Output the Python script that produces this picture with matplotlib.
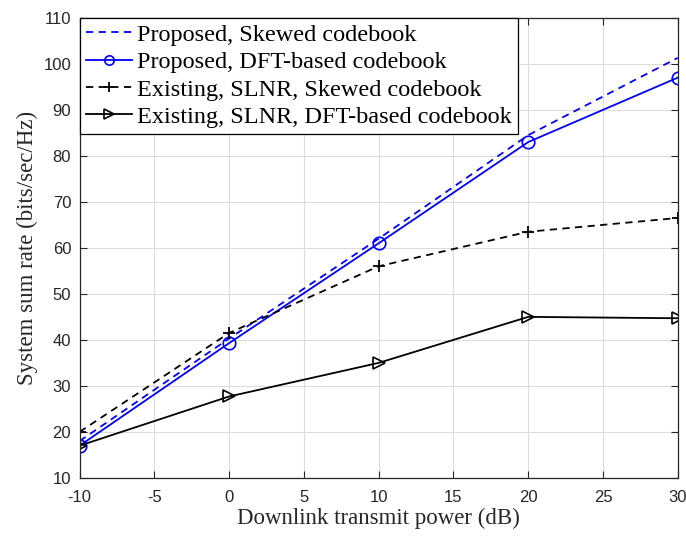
import matplotlib
matplotlib.use("Agg")
import matplotlib.pyplot as plt

plt.rcParams["axes.unicode_minus"] = False

power_db = [-10, 0, 10, 20, 30]
proposed_skewed = [18.0, 40.3, 62.0, 84.5, 101.3]
proposed_dft = [17.0, 39.3, 61.0, 83.0, 97.0]
existing_skewed = [20.0, 41.5, 56.0, 63.5, 66.5]
existing_dft = [17.0, 27.7, 35.0, 45.0, 44.7]

labels = ["Proposed, Skewed codebook",
          "Proposed, DFT-based codebook",
          "Existing, SLNR, Skewed codebook",
          "Existing, SLNR, DFT-based codebook"]

fig = plt.figure(figsize=(6.86, 5.40), dpi=100)
ax = fig.add_axes([0.116, 0.115, 0.872, 0.852])

ax.plot(power_db, proposed_skewed, color="#0000ff", ls=(0, (4, 3)), lw=1.3, label=labels[0])
ax.plot(power_db, proposed_dft, color="#0000ff", ls="-", lw=1.3, marker="o",
        ms=9, mfc="none", mew=1.2, label=labels[1])
ax.plot(power_db, existing_skewed, color="black", ls=(0, (4, 3)), lw=1.3, marker="+",
        ms=9, mew=1.3, label=labels[2])
ax.plot(power_db, existing_dft, color="black", ls="-", lw=1.3, marker=">",
        ms=9, mfc="none", mew=1.2, label=labels[3])

ax.set_xlim(-10, 30)
ax.set_ylim(10, 110)
ax.set_xticks(range(-10, 31, 5))
ax.set_yticks(range(10, 111, 10))
ax.grid(True, color="#dcdcdc", lw=0.8)
ax.set_axisbelow(True)
for s in ax.spines.values():
    s.set_color("#262626")
    s.set_linewidth(0.9)
ax.tick_params(direction="in", length=5, width=0.8, colors="#262626",
               labelsize=12, top=True, right=True)
ax.tick_params(axis="x", pad=9)
ax.tick_params(axis="y", pad=6)
for t in ax.get_xticklabels() + ax.get_yticklabels():
    t.set_fontfamily("Liberation Sans")

ax.set_xlabel("Downlink transmit power (dB)", family="Liberation Serif",
              fontsize=16.5, color="#262626", labelpad=2)
ax.set_ylabel("System sum rate (bits/sec/Hz)", family="Liberation Serif",
              fontsize=16.5, color="#262626", labelpad=4)

leg = ax.legend(loc="upper left", bbox_to_anchor=(0, 1), borderaxespad=0,
                prop={"family": "Liberation Serif", "size": 17.5},
                fancybox=False, framealpha=1, edgecolor="black",
                handlelength=1.9, handletextpad=0.2, labelspacing=0.22,
                borderpad=0.25, markerscale=0.75)
leg.get_frame().set_linewidth(0.9)

fig.savefig("out.png", dpi=100)
